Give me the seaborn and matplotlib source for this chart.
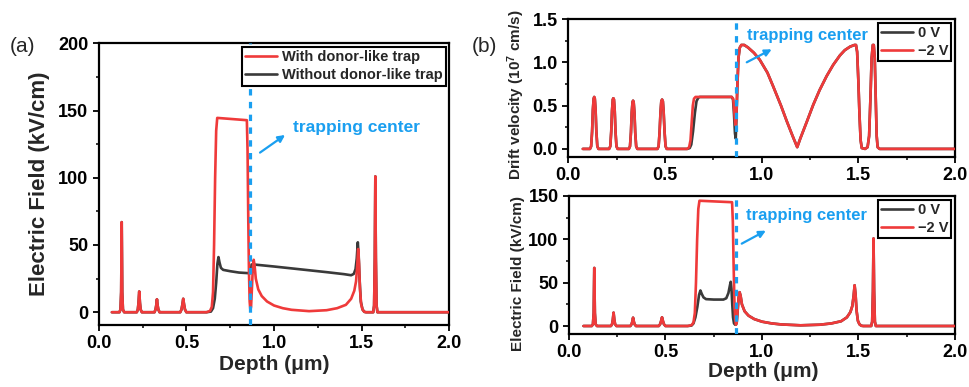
import matplotlib
matplotlib.use("Agg")
import matplotlib.pyplot as plt
import seaborn as sns
from matplotlib.ticker import MultipleLocator, FormatStrFormatter

# ---------------- data ----------------
# Electric field with donor-like trap (also the -2 V curve), kV/cm
depth_field_trap = [0.075, 0.118, 0.124, 0.128, 0.131, 0.134, 0.138, 0.145,
                    0.217, 0.223, 0.227, 0.231, 0.235, 0.239, 0.246,
                    0.318, 0.324, 0.328, 0.332, 0.336, 0.340, 0.347,
                    0.465, 0.472, 0.477, 0.482, 0.487, 0.492, 0.500,
                    0.615, 0.635, 0.645, 0.652, 0.658, 0.664, 0.670, 0.676,
                    0.845, 0.849, 0.853, 0.857, 0.861, 0.865, 0.869, 0.874,
                    0.879, 0.884, 0.889, 0.896, 0.910, 0.930, 0.960, 1.000,
                    1.050, 1.100, 1.200, 1.300, 1.360, 1.410, 1.440, 1.458,
                    1.468, 1.475, 1.480, 1.485, 1.490, 1.497, 1.505, 1.515,
                    1.525, 1.566, 1.571, 1.575, 1.578, 1.581, 1.585, 1.590, 2.000]
field_trap = [0, 0, 2, 15, 67, 15, 2, 0,
              0, 2, 7, 15.4, 7, 2, 0,
              0, 2, 5, 9.6, 5, 2, 0,
              0, 2, 5.5, 10, 5.5, 2, 0,
              0, 1, 4, 15, 50, 100, 135, 144.5,
              142.8, 120, 70, 30, 8, 1.5, 4, 18,
              33, 39, 35, 25, 17, 12, 8, 5,
              3, 1.8, 0.8, 1.5, 3, 5.5, 10, 16,
              23, 35, 47, 36, 18, 6, 2, 0.3,
              0, 0, 5, 40, 101, 40, 5, 0, 0]

# Electric field without donor-like trap, kV/cm
depth_field_notrap = [0.075, 0.118, 0.124, 0.128, 0.131, 0.134, 0.138, 0.145,
                      0.217, 0.223, 0.227, 0.231, 0.235, 0.239, 0.246,
                      0.318, 0.324, 0.328, 0.332, 0.336, 0.340, 0.347,
                      0.465, 0.472, 0.477, 0.482, 0.487, 0.492, 0.500,
                      0.615, 0.640, 0.652, 0.662, 0.670, 0.677, 0.683, 0.689,
                      0.697, 0.710, 0.750, 0.800, 0.860, 0.866, 0.872, 0.900,
                      1.000, 1.100, 1.200, 1.300, 1.400, 1.440, 1.455, 1.465,
                      1.472, 1.478, 1.483, 1.488, 1.495, 1.505, 1.515, 1.525,
                      1.566, 1.571, 1.575, 1.578, 1.581, 1.585, 1.590, 2.000]
field_notrap = [0, 0, 2, 15, 67, 15, 2, 0,
                0, 2, 7, 15.4, 7, 2, 0,
                0, 2, 5, 9.6, 5, 2, 0,
                0, 2, 5.5, 10, 5.5, 2, 0,
                0, 0.5, 3, 10, 22, 36, 41, 37,
                33, 31.5, 30.5, 29.5, 29, 29, 35.5, 35.3,
                34, 32.6, 31.2, 29.8, 28.3, 27.5, 28.5, 32,
                40, 52, 42, 25, 8, 2, 0.3, 0,
                0, 5, 40, 101, 40, 5, 0, 0]

# Electric field at 0 V, kV/cm
depth_field_0v = [0.075, 0.118, 0.124, 0.128, 0.131, 0.134, 0.138, 0.145,
                  0.217, 0.223, 0.227, 0.231, 0.235, 0.239, 0.246,
                  0.318, 0.324, 0.328, 0.332, 0.336, 0.340, 0.347,
                  0.465, 0.472, 0.477, 0.482, 0.487, 0.492, 0.500,
                  0.615, 0.635, 0.645, 0.655, 0.665, 0.674, 0.681, 0.688,
                  0.697, 0.710, 0.750, 0.800, 0.815, 0.826, 0.834, 0.838,
                  0.842, 0.846, 0.850, 0.855, 0.861, 0.865, 0.869, 0.874,
                  0.879, 0.884, 0.889, 0.896, 0.910, 0.930, 0.960, 1.000,
                  1.050, 1.100, 1.200, 1.300, 1.360, 1.410, 1.440, 1.458,
                  1.468, 1.475, 1.480, 1.485, 1.490, 1.497, 1.505, 1.515,
                  1.525, 1.566, 1.571, 1.575, 1.578, 1.581, 1.585, 1.590, 2.000]
field_0v = [0, 0, 2, 15, 67, 15, 2, 0,
            0, 2, 7, 15.4, 7, 2, 0,
            0, 2, 5, 9.6, 5, 2, 0,
            0, 2, 5.5, 10, 5.5, 2, 0,
            0, 0.5, 3, 10, 22, 36, 41, 37,
            33, 31, 30.5, 30.5, 32, 38, 47, 51,
            43, 25, 10, 3, 1.5, 1.5, 4, 18,
            33, 39, 35, 25, 17, 12, 8, 5,
            3, 1.8, 0.8, 1.5, 3, 5.5, 10, 16,
            23, 35, 47, 36, 18, 6, 2, 0.3,
            0, 0, 5, 40, 101, 40, 5, 0, 0]

# Drift velocity at -2 V, 1e7 cm/s
depth_vel_2v = [0.075, 0.112, 0.118, 0.123, 0.127, 0.131, 0.134, 0.137, 0.141, 0.145, 0.150, 0.156,
                0.211, 0.217, 0.222, 0.226, 0.230, 0.233, 0.236, 0.240, 0.244, 0.249, 0.255,
                0.313, 0.319, 0.324, 0.328, 0.332, 0.335, 0.338, 0.342, 0.346, 0.351, 0.357,
                0.461, 0.467, 0.472, 0.477, 0.481, 0.485, 0.489, 0.493, 0.498, 0.503, 0.509,
                0.615, 0.625, 0.632, 0.638, 0.644, 0.650, 0.658, 0.845, 0.853, 0.858,
                0.863, 0.866, 0.869, 0.874, 0.880, 0.887, 0.895, 0.910, 0.930, 0.960,
                0.990, 1.030, 1.060, 1.100, 1.130, 1.160, 1.184, 1.200, 1.233, 1.267,
                1.300, 1.336, 1.370, 1.405, 1.430, 1.457, 1.480, 1.488, 1.494, 1.500,
                1.506, 1.512, 1.518, 1.535, 1.548, 1.556, 1.563, 1.569, 1.575, 1.580,
                1.585, 1.590, 1.595, 1.600, 1.610, 2.000]
vel_2v = [0, 0, 0.03, 0.2, 0.45, 0.58, 0.60, 0.58, 0.45, 0.2, 0.03, 0,
          0, 0.03, 0.2, 0.44, 0.57, 0.585, 0.57, 0.44, 0.2, 0.03, 0,
          0, 0.03, 0.19, 0.42, 0.54, 0.557, 0.54, 0.42, 0.19, 0.03, 0,
          0, 0.03, 0.19, 0.43, 0.55, 0.57, 0.55, 0.43, 0.19, 0.03, 0,
          0, 0.02, 0.1, 0.3, 0.5, 0.58, 0.6, 0.6, 0.58, 0.45,
          0.3, 0.27, 0.35, 0.7, 1.05, 1.17, 1.2, 1.2, 1.17, 1.11,
          1.03, 0.88, 0.72, 0.5, 0.32, 0.15, 0.02, 0.12, 0.31, 0.51,
          0.68, 0.84, 0.97, 1.08, 1.14, 1.18, 1.2, 1.2, 1.12, 0.8,
          0.4, 0.1, 0.01, 0, 0.02, 0.15, 0.6, 1.05, 1.2, 1.2,
          1.05, 0.6, 0.15, 0.02, 0, 0]

# Drift velocity at 0 V, 1e7 cm/s
depth_vel_0v = [0.075, 0.112, 0.118, 0.123, 0.127, 0.131, 0.134, 0.137, 0.141, 0.145, 0.150, 0.156,
                0.211, 0.217, 0.222, 0.226, 0.230, 0.233, 0.236, 0.240, 0.244, 0.249, 0.255,
                0.313, 0.319, 0.324, 0.328, 0.332, 0.335, 0.338, 0.342, 0.346, 0.351, 0.357,
                0.461, 0.467, 0.472, 0.477, 0.481, 0.485, 0.489, 0.493, 0.498, 0.503, 0.509,
                0.615, 0.628, 0.636, 0.645, 0.655, 0.663, 0.672, 0.680, 0.845, 0.852,
                0.857, 0.862, 0.866, 0.869, 0.874, 0.880, 0.887, 0.895, 0.910, 0.930, 0.960,
                0.990, 1.030, 1.060, 1.100, 1.130, 1.160, 1.184, 1.200, 1.233, 1.267,
                1.300, 1.336, 1.370, 1.405, 1.430, 1.457, 1.480, 1.488, 1.494, 1.500,
                1.506, 1.512, 1.518, 1.535, 1.548, 1.556, 1.563, 1.569, 1.575, 1.580,
                1.585, 1.590, 1.595, 1.600, 1.610, 2.000]
vel_0v = [0, 0, 0.03, 0.2, 0.45, 0.58, 0.60, 0.58, 0.45, 0.2, 0.03, 0,
          0, 0.03, 0.2, 0.44, 0.57, 0.585, 0.57, 0.44, 0.2, 0.03, 0,
          0, 0.03, 0.19, 0.42, 0.54, 0.557, 0.54, 0.42, 0.19, 0.03, 0,
          0, 0.03, 0.19, 0.43, 0.55, 0.57, 0.55, 0.43, 0.19, 0.03, 0,
          0, 0.01, 0.05, 0.2, 0.42, 0.55, 0.59, 0.6, 0.6, 0.57,
          0.4, 0.18, 0.12, 0.3, 0.7, 1.05, 1.17, 1.2, 1.2, 1.17, 1.11,
          1.03, 0.88, 0.72, 0.5, 0.32, 0.15, 0.02, 0.12, 0.31, 0.51,
          0.68, 0.84, 0.97, 1.08, 1.14, 1.18, 1.2, 1.2, 1.12, 0.8,
          0.4, 0.1, 0.01, 0, 0.02, 0.15, 0.6, 1.05, 1.2, 1.2,
          1.05, 0.6, 0.15, 0.02, 0, 0]

trap_depth = 0.865
depth_ticks = [0.0, 0.5, 1.0, 1.5, 2.0]

# ---------------- style ----------------
sns.set_theme(style="ticks")
plt.rcParams.update({
    "font.family": ["Liberation Sans", "DejaVu Sans"],
    "font.weight": "bold",
    "mathtext.fontset": "custom",
    "mathtext.rm": "Liberation Sans:bold",
    "mathtext.it": "Liberation Sans:bold",
    "mathtext.bf": "Liberation Sans:bold",
    "mathtext.default": "rm",
    "axes.linewidth": 1.6,
    "axes.edgecolor": "black",
    "xtick.direction": "out",
    "ytick.direction": "out",
    "xtick.major.size": 4.5,
    "ytick.major.size": 4.5,
    "xtick.minor.size": 2.5,
    "ytick.minor.size": 2.5,
    "xtick.major.width": 1.3,
    "ytick.major.width": 1.3,
    "xtick.minor.width": 1.1,
    "ytick.minor.width": 1.1,
    "xtick.color": "black",
    "ytick.color": "black",
    "xtick.labelsize": 13,
    "ytick.labelsize": 13,
    "xtick.major.pad": 3.0,
    "ytick.major.pad": 3.0,
})

RED = "#ef3a3a"
DARK = "#3a3a3a"
BLUE = "#1a9ff0"
LW = 1.9

fig = plt.figure(figsize=(9.7, 3.87), dpi=100)
ax_a = fig.add_axes([0.1018, 0.1602, 0.3614, 0.728])
ax_v = fig.add_axes([0.5859, 0.5951, 0.3986, 0.3558])
ax_e = fig.add_axes([0.5866, 0.1370, 0.3979, 0.3566])


def curve(ax, x, y, color, label, z):
    sns.lineplot(x=x, y=y, ax=ax, color=color, lw=LW, label=label,
                 sort=False, estimator=None, zorder=z, legend=False)
    return ax.lines[-1]


def trap_marker(ax, text_xy, tail, head, size=12.5):
    ax.axvline(trap_depth, color=BLUE, lw=2.3, ls=(0, (2, 2)), zorder=5)
    ax.annotate("", xy=head, xytext=tail,
                arrowprops=dict(arrowstyle="-|>", color=BLUE, lw=1.6,
                                mutation_scale=10, shrinkA=0, shrinkB=0),
                zorder=6)
    ax.text(text_xy[0], text_xy[1], "trapping center", color=BLUE,
            fontsize=size, fontweight="bold", ha="left", va="center", zorder=6)


def frame_legend(ax, handles, labels):
    leg = ax.legend(handles, labels, loc="upper right", fontsize=10.5,
                    frameon=True, fancybox=False, framealpha=1,
                    edgecolor="black", handlelength=2.2, handletextpad=0.3,
                    labelspacing=0.3, borderpad=0.22, borderaxespad=0.25)
    leg.get_frame().set_linewidth(1.5)
    leg.set_zorder(10)


def depth_axis(ax):
    ax.set_xlim(0, 2.0)
    ax.set_xticks(depth_ticks)
    ax.xaxis.set_minor_locator(MultipleLocator(0.25))
    ax.xaxis.set_major_formatter(FormatStrFormatter("%.1f"))
    for s in ax.spines.values():
        s.set_visible(True)
        s.set_linewidth(1.6)


# ---------------- (a) ----------------
h_notrap = curve(ax_a, depth_field_notrap, field_notrap, DARK, "Without donor-like trap", 2)
h_trap = curve(ax_a, depth_field_trap, field_trap, RED, "With donor-like trap", 3)
depth_axis(ax_a)
ax_a.set_ylim(-9.5, 200)
ax_a.set_yticks([0, 50, 100, 150, 200])
ax_a.yaxis.set_minor_locator(MultipleLocator(25))
ax_a.set_xlabel("Depth (μm)", fontsize=15, fontweight="bold")
ax_a.set_ylabel("Electric Field (kV/cm)", fontsize=16, fontweight="bold")
ax_a.xaxis.set_label_coords(0.5, -0.105)
ax_a.yaxis.set_label_coords(-0.138, 0.5)
trap_marker(ax_a, (1.108, 137), (0.92, 118.7), (1.063, 131.8))
frame_legend(ax_a, [h_trap, h_notrap], ["With donor-like trap", "Without donor-like trap"])

# ---------------- (b) top: drift velocity ----------------
h0 = curve(ax_v, depth_vel_0v, vel_0v, DARK, "0 V", 2)
h2 = curve(ax_v, depth_vel_2v, vel_2v, RED, "\u22122 V", 3)
depth_axis(ax_v)
ax_v.set_ylim(-0.09, 1.5)
ax_v.set_yticks([0.0, 0.5, 1.0, 1.5])
ax_v.yaxis.set_minor_locator(MultipleLocator(0.25))
ax_v.yaxis.set_major_formatter(FormatStrFormatter("%.1f"))
ax_v.set_xlabel("")
ax_v.set_ylabel(r"Drift velocity (10$^{7}$ cm/s)", fontsize=11, fontweight="bold")
ax_v.yaxis.set_label_coords(-0.107, 0.45)
trap_marker(ax_v, (0.923, 1.31), (0.923, 1.0), (1.052, 1.15), size=12.0)
frame_legend(ax_v, [h0, h2], ["0 V", "\u22122 V"])

# ---------------- (b) bottom: electric field ----------------
g0 = curve(ax_e, depth_field_0v, field_0v, DARK, "0 V", 2)
g2 = curve(ax_e, depth_field_trap, field_trap, RED, "\u22122 V", 3)
depth_axis(ax_e)
ax_e.set_ylim(-9.2, 150)
ax_e.set_yticks([0, 50, 100, 150])
ax_e.yaxis.set_minor_locator(MultipleLocator(25))
ax_e.set_xlabel("Depth (μm)", fontsize=15, fontweight="bold")
ax_e.set_ylabel("Electric Field (kV/cm)", fontsize=11, fontweight="bold")
ax_e.xaxis.set_label_coords(0.502, -0.205)
ax_e.yaxis.set_label_coords(-0.114, 0.435)
trap_marker(ax_e, (0.917, 128), (0.895, 95), (1.02, 110), size=12.0)
frame_legend(ax_e, [g0, g2], ["0 V", "\u22122 V"])

# panel tags
fig.text(23 / 970, 1 - 47 / 387, "(a)", fontsize=15, fontweight="normal",
         ha="center", va="center")
fig.text(484 / 970, 1 - 46 / 387, "(b)", fontsize=15, fontweight="normal",
         ha="center", va="center")

fig.savefig("out.png", dpi=100)
